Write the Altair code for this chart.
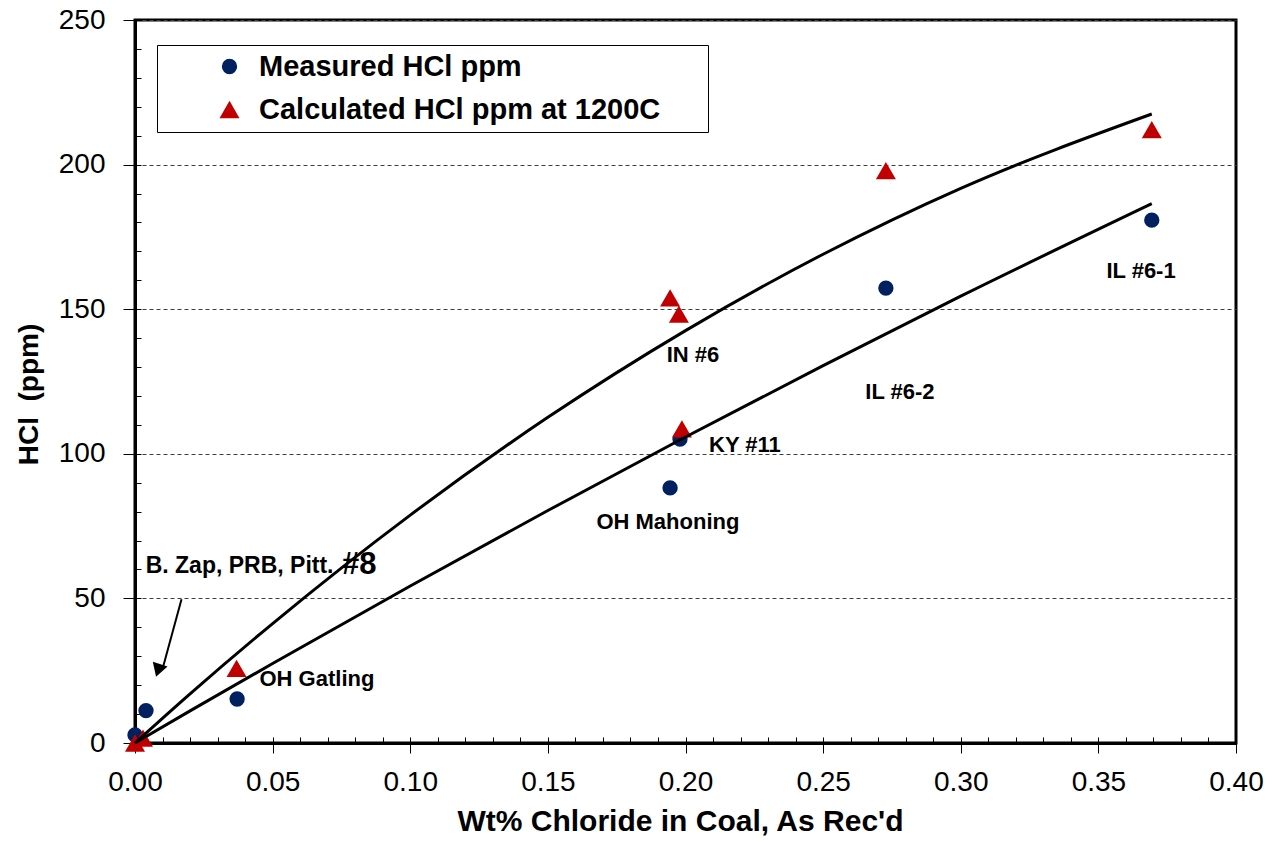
import altair as alt
import pandas as pd

FONT = "Liberation Sans"

S1 = "Measured HCl ppm"
S2 = "Calculated HCl ppm at 1200C"

# Measured HCl (blue circles)
meas_x = [0.0, 0.004, 0.0371, 0.1944, 0.1980, 0.2728, 0.3694]
meas_y = [2.8, 11.2, 15.2, 88.2, 105.1, 157.3, 180.8]
# Calculated HCl at 1200C (red triangles)
calc_x = [0.0, 0.0029, 0.0369, 0.1944, 0.1976, 0.1987, 0.2728, 0.3694]
calc_y = [0.0, 1.7, 25.8, 153.9, 148.3, 108.6, 197.9, 212.1]

# Trend curves
curve_x = [0.0, 0.02, 0.05, 0.10, 0.15, 0.20, 0.25, 0.30, 0.3694]
upper_y = [0.0, 17.0, 41.3, 78.8, 112.6, 142.6, 169.0, 191.8, 217.5]
lower_y = [0.0, 11.1, 27.5, 54.3, 80.4, 105.8, 130.5, 154.5, 186.5]

# Annotations
label_text = ["IN #6", "KY #11", "OH Mahoning", "IL #6-1", "IL #6-2", "OH Gatling"]
label_x = [0.2027, 0.2216, 0.1936, 0.3655, 0.2779, 0.0661]
label_y = [134.2, 103.2, 76.4, 163.2, 121.5, 22.1]
zap_text = ["B. Zap, PRB, Pitt."]
zap_x = [0.0380]
zap_y = [61.2]
big_text = ["#8"]
big_x = [0.0815]
big_y = [61.5]

# Arrow
arrow_x = [0.0169, 0.0102]
arrow_y = [49.7, 26.3]
head_x = [0.0084]
head_y = [25.1]

# Ticks
x_major = [0.0, 0.05, 0.10, 0.15, 0.20, 0.25, 0.30, 0.35, 0.40]
x_minor = [round(i * 0.01, 2) for i in range(41)]
y_major = [0, 50, 100, 150, 200, 250]
y_minor = [i * 10 for i in range(26)]

W, H = 1101, 723

xs = alt.Scale(domain=[0, 0.4], nice=False, zero=False)
ys = alt.Scale(domain=[0, 250], nice=False)

x_main = alt.Axis(values=x_major, format=".2f", tickSize=10, labelPadding=15, labelFlush=False,
                  labelFontSize=28, labelFont=FONT, labelColor="black",
                  domainColor="black", domainWidth=3, tickColor="black", tickWidth=1,
                  grid=False, title="Wt% Chloride in Coal, As Rec'd",
                  titleFont=FONT, titleFontSize=30, titleFontWeight="bold", titleColor="black",
                  titleX=545, titleY=87, titleBaseline="alphabetic")
y_main = alt.Axis(values=y_major, tickSize=12, labelPadding=18, labelFlush=False,
                  labelFontSize=28, labelFont=FONT, labelColor="black",
                  domainColor="black", domainWidth=3, tickColor="black", tickWidth=1,
                  grid=True, gridDash=[4, 3], gridColor="#404040", gridWidth=1,
                  title="HCl\u00a0\u00a0(ppm)", titleFont=FONT, titleFontSize=28, titleFontWeight="bold",
                  titleColor="black", titleX=-106, titleY=374, titleBaseline="middle", titleAngle=-90)
x_minor_axis = alt.Axis(orient="bottom", values=x_minor, tickSize={"expr": "-6"}, labels=False,
                        domain=False, grid=False, title=None, tickColor="black", tickWidth=1)
y_minor_axis = alt.Axis(orient="left", values=y_minor, tickSize={"expr": "-6"}, labels=False,
                        domain=False, grid=False, title=None, tickColor="black", tickWidth=1)

pts = pd.DataFrame({
    "x": meas_x + calc_x,
    "y": meas_y + calc_y,
    "series": [S1] * len(meas_x) + [S2] * len(calc_x),
})

legend = alt.Legend(title=".", titleOrient="right", titlePadding=38, titleFontSize=10,
                    titleOpacity=0,
                    orient="none", legendX=22, legendY=25,
                    strokeColor="black", fillColor="white", padding=7,
                    labelFont=FONT, labelFontSize=29, labelFontWeight="bold", labelColor="black",
                    labelLimit=0, symbolOffset=51, labelOffset=15, rowPadding=13)

points = alt.Chart(pts).mark_point(filled=True, opacity=1).encode(
    x=alt.X("x:Q", scale=xs, axis=x_main),
    y=alt.Y("y:Q", scale=ys, axis=y_main),
    color=alt.Color("series:N", scale=alt.Scale(domain=[S1, S2], range=["#002060", "#C00000"]), legend=legend),
    shape=alt.Shape("series:N", scale=alt.Scale(domain=[S1, S2], range=["circle", "triangle-up"]), legend=legend),
    size=alt.Size("series:N", scale=alt.Scale(domain=[S1, S2], range=[235, 400]), legend=legend),
)

curves_df = pd.DataFrame({
    "x": curve_x + curve_x,
    "y": upper_y + lower_y,
    "curve": ["upper"] * len(curve_x) + ["lower"] * len(curve_x),
})
curves = alt.Chart(curves_df).mark_line(color="black", strokeWidth=3, interpolate="monotone").encode(
    x=alt.X("x:Q", scale=xs, axis=x_minor_axis),
    y=alt.Y("y:Q", scale=ys, axis=y_minor_axis),
    detail="curve:N",
)


def text_layer(xv, yv, tv, size):
    df = pd.DataFrame({"x": xv, "y": yv, "t": tv})
    return alt.Chart(df).mark_text(font=FONT, fontSize=size, fontWeight="bold", color="black",
                                   align="center", baseline="middle").encode(
        x=alt.X("x:Q", scale=xs, axis=None),
        y=alt.Y("y:Q", scale=ys, axis=None),
        text="t:N",
    )


labels = text_layer(label_x, label_y, label_text, 22)
zap = text_layer(zap_x, zap_y, zap_text, 23)
big = text_layer(big_x, big_y, big_text, 31)

arrow_df = pd.DataFrame({"x": arrow_x, "y": arrow_y})
arrow = alt.Chart(arrow_df).mark_line(color="black", strokeWidth=2).encode(
    x=alt.X("x:Q", scale=xs, axis=None),
    y=alt.Y("y:Q", scale=ys, axis=None),
)
head_df = pd.DataFrame({"x": head_x, "y": head_y})
head = alt.Chart(head_df).mark_point(shape="triangle-up", filled=True, color="black",
                                     opacity=1, size=240, angle=198).encode(
    x=alt.X("x:Q", scale=xs, axis=None),
    y=alt.Y("y:Q", scale=ys, axis=None),
)

chart = alt.layer(points, curves, labels, zap, big, arrow, head).resolve_axis(
    x="independent", y="independent"
).properties(
    width=W, height=H,
    autosize=alt.AutoSizeParams(type="none"),
    padding={"left": 135, "top": 20, "right": 36, "bottom": 99},
    background="white",
).configure_view(stroke="black", strokeWidth=3)

chart.save("out.html", embed_options={"renderer": "svg", "actions": False})
